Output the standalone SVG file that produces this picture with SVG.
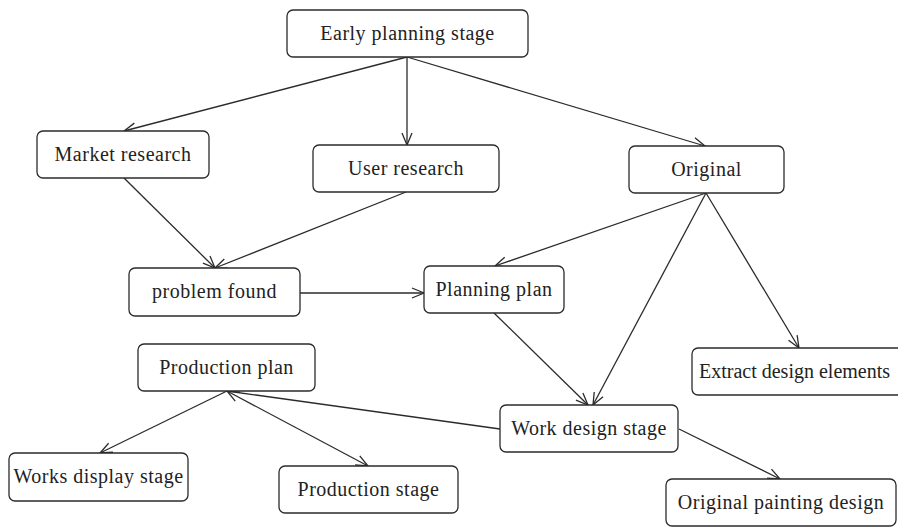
<svg xmlns="http://www.w3.org/2000/svg" width="898" height="527" viewBox="0 0 898 527">
  <defs>
    <style>
      .box { fill: #ffffff; stroke: #2b2b2b; stroke-width: 1.3; }
      .lbl { font-family: "Liberation Serif", "Times New Roman", serif; font-size: 20px; letter-spacing: 0.5px; fill: #222222; text-anchor: middle; }
      .edge { stroke: #2b2b2b; stroke-width: 1.3; fill: none; }
      .arr { marker-end: url(#head); }
      .both { marker-start: url(#head); marker-end: url(#head); }
    </style>
    <marker id="head" viewBox="0 0 14 12" refX="13" refY="6" markerWidth="14" markerHeight="12" markerUnits="userSpaceOnUse" orient="auto-start-reverse">
      <path d="M1,1 L13,6 L1,11" fill="none" stroke="#2b2b2b" stroke-width="1.3"/>
    </marker>
  </defs>
  <rect width="898" height="527" fill="#ffffff"/>

  <g id="connectors">
    <line class="edge arr" x1="407" y1="57" x2="124" y2="131"/>
    <line class="edge arr" x1="407" y1="57" x2="407" y2="145"/>
    <line class="edge arr" x1="407" y1="57" x2="705" y2="146"/>
    <line class="edge arr" x1="124" y1="178" x2="215" y2="268"/>
    <line class="edge arr" x1="406" y1="192" x2="215" y2="268"/>
    <line class="edge arr" x1="300" y1="293" x2="424" y2="293"/>
    <line class="edge arr" x1="706" y1="193" x2="495" y2="266"/>
    <line class="edge arr" x1="706" y1="193" x2="593" y2="405"/>
    <line class="edge arr" x1="706" y1="193" x2="799" y2="348"/>
    <line class="edge arr" x1="494" y1="313" x2="588" y2="405"/>
    <line class="edge" x1="500" y1="429" x2="227" y2="391"/>
    <line class="edge both" x1="227" y1="391" x2="368" y2="466"/>
    <line class="edge arr" x1="227" y1="391" x2="100" y2="453"/>
    <line class="edge arr" x1="679" y1="429" x2="780" y2="479"/>
  </g>

  <g id="early-planning-stage">
    <rect class="box" x="287" y="10" width="241" height="47" rx="6"/>
    <text class="lbl" x="407.5" y="39.5">Early planning stage</text>
  </g>
  <g id="market-research">
    <rect class="box" x="37" y="131" width="172" height="47" rx="6"/>
    <text class="lbl" x="123" y="160.5">Market research</text>
  </g>
  <g id="user-research">
    <rect class="box" x="313" y="145" width="186" height="47" rx="6"/>
    <text class="lbl" x="406" y="174.5">User research</text>
  </g>
  <g id="original">
    <rect class="box" x="629" y="146" width="155" height="47" rx="6"/>
    <text class="lbl" x="706.5" y="175.5">Original</text>
  </g>
  <g id="problem-found">
    <rect class="box" x="129" y="268" width="171" height="48" rx="6"/>
    <text class="lbl" x="214.5" y="298">problem found</text>
  </g>
  <g id="planning-plan">
    <rect class="box" x="424" y="266" width="140" height="47" rx="6"/>
    <text class="lbl" x="494" y="295.5">Planning plan</text>
  </g>
  <g id="extract-design-elements">
    <rect class="box" x="692" y="348" width="216" height="47" rx="6"/>
    <text class="lbl" x="699" y="377.5" style="text-anchor:start;letter-spacing:0">Extract design elements</text>
  </g>
  <g id="production-plan">
    <rect class="box" x="138" y="344" width="177" height="47" rx="6"/>
    <text class="lbl" x="226.5" y="373.5">Production plan</text>
  </g>
  <g id="work-design-stage">
    <rect class="box" x="500" y="405" width="178" height="47" rx="6"/>
    <text class="lbl" x="589" y="434.5">Work design stage</text>
  </g>
  <g id="works-display-stage">
    <rect class="box" x="9" y="453" width="179" height="48" rx="6"/>
    <text class="lbl" x="98.5" y="483">Works display stage</text>
  </g>
  <g id="production-stage">
    <rect class="box" x="279" y="466" width="179" height="47" rx="6"/>
    <text class="lbl" x="368.5" y="495.5">Production stage</text>
  </g>
  <g id="original-painting-design">
    <rect class="box" x="666" y="479" width="230" height="47" rx="6"/>
    <text class="lbl" x="781" y="508.5">Original painting design</text>
  </g>
</svg>
